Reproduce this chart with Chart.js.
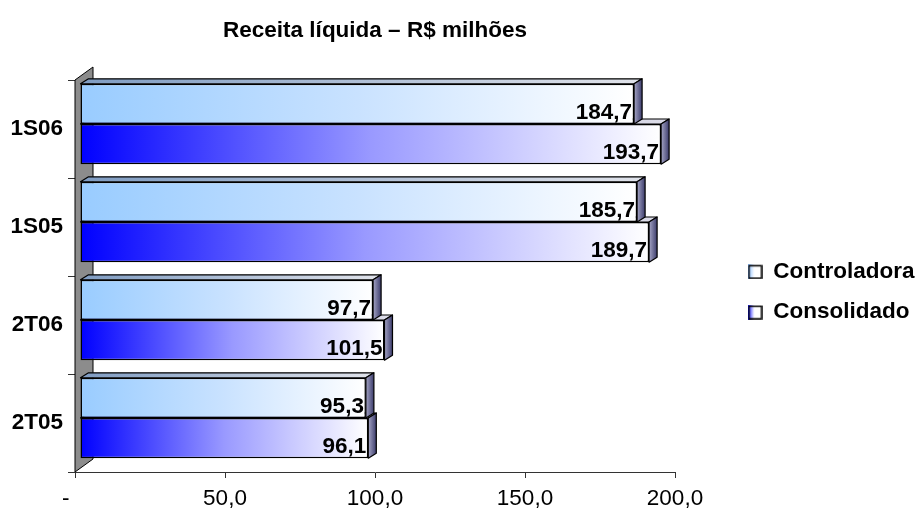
<!DOCTYPE html>
<html>
<head>
<meta charset="utf-8">
<title>Receita líquida</title>
<script src="https://cdn.jsdelivr.net/npm/chart.js@4.4.1/dist/chart.umd.min.js"></script>
<style>
    html, body { margin: 0; padding: 0; background: #fff; }
    #box { width: 916px; height: 510px; }
</style>
</head>
<body>
<div id="box"><canvas id="myChart"></canvas></div>
<script>
// ---------- data ----------
var periods = ['1S06', '1S05', '2T06', '2T05'];
var controladora = [184.7, 185.7, 97.7, 95.3];
var consolidado = [193.7, 189.7, 101.5, 96.1];
var axisTicks = [0, 50, 100, 150, 200];

var FONT = '"Liberation Sans", Arial, sans-serif';
var FS = 22.5;
Chart.defaults.font.family = FONT;
Chart.defaults.color = '#000';

// 3d look: bars are pushed a bit right/up from the axes, depth goes up-right
var SHIFT_X = 5, SHIFT_Y = -5;
var DEPTH_X = 8, DEPTH_Y = -5;

function fmt(v) {
    return v.toFixed(1).replace('.', ',');
}

// gradient along each bar, from its base to its end
function barFill(stops) {
    return function (c) {
        var chart = c.chart;
        if (!chart.chartArea || c.type !== 'data') return stops[0][1];
        var x0 = chart.scales.x.getPixelForValue(0);
        var x1 = chart.scales.x.getPixelForValue(c.raw);
        var g = chart.ctx.createLinearGradient(x0, 0, x1, 0);
        stops.forEach(function (s) { g.addColorStop(s[0], s[1]); });
        return g;
    };
}

var fillCtrl = [[0, '#99ccff'], [0.5, '#c9e2ff'], [1, '#ffffff']];
var fillCons = [[0, '#0000ff'], [0.5, '#9999ff'], [1, '#ffffff']];
var topCtrl = ['#7f9cc2', '#dfe2ea'];
var topCons = ['#3a3aa0', '#dcdce8'];

// small legend squares
function swatch(c0) {
    var cv = document.createElement('canvas');
    cv.width = 15; cv.height = 15;
    var g = cv.getContext('2d');
    var gr = g.createLinearGradient(0, 0, 15, 0);
    gr.addColorStop(0, c0);
    gr.addColorStop(0.45, '#ffffff');
    gr.addColorStop(1, '#ffffff');
    g.fillStyle = gr;
    g.fillRect(0, 0, 15, 15);
    g.strokeStyle = '#000';
    g.lineWidth = 1.5;
    g.strokeRect(1.5, 1.5, 12.5, 12.5);
    return cv;
}
var swatches = [swatch('#7fb8ff'), swatch('#0000ff')];

// empty box between plot and legend
var legendGap = {
    id: 'legendGap',
    beforeInit: function (chart) {
        Chart.layouts.addBox(chart, {
            position: 'right', weight: 500, fullSize: false, options: {},
            top: 0, left: 0, right: 0, bottom: 0, width: 0, height: 0,
            isHorizontal: function () { return false; },
            update: function (w, h) { this.width = 55; this.height = h; },
            draw: function () {}
        });
    }
};

var bars3d = {
    id: 'bars3d',
    beforeDatasetsDraw: function (chart) {
        var ctx = chart.ctx, a = chart.chartArea;
        // grey back wall
        ctx.save();
        ctx.beginPath();
        ctx.moveTo(a.left, a.top);
        ctx.lineTo(a.left + 18, a.top - 13);
        ctx.lineTo(a.left + 18, a.bottom - 13);
        ctx.lineTo(a.left, a.bottom);
        ctx.closePath();
        ctx.fillStyle = '#8c8c8c';
        ctx.fill();
        ctx.strokeStyle = '#000';
        ctx.lineWidth = 1;
        ctx.stroke();
        ctx.restore();

        ctx.save();
        ctx.translate(SHIFT_X, SHIFT_Y);
    },
    afterDatasetDraw: function (chart, args) {
        var ctx = chart.ctx;
        var tops = args.index === 0 ? topCtrl : topCons;
        args.meta.data.forEach(function (bar) {
            var p = bar.getProps(['x', 'y', 'base', 'height'], true);
            var t = p.y - p.height / 2, b = p.y + p.height / 2;
            ctx.save();
            ctx.lineWidth = 1.2;
            ctx.strokeStyle = '#000';
            ctx.lineJoin = 'round';

            // top face
            var g = ctx.createLinearGradient(p.base, 0, p.x, 0);
            g.addColorStop(0, tops[0]);
            g.addColorStop(1, tops[1]);
            ctx.beginPath();
            ctx.moveTo(p.base, t);
            ctx.lineTo(p.base + DEPTH_X, t + DEPTH_Y);
            ctx.lineTo(p.x + DEPTH_X, t + DEPTH_Y);
            ctx.lineTo(p.x, t);
            ctx.closePath();
            ctx.fillStyle = g;
            ctx.fill();
            ctx.stroke();

            // end face
            var s = ctx.createLinearGradient(p.x, 0, p.x + DEPTH_X, 0);
            s.addColorStop(0, '#a4a4c4');
            s.addColorStop(1, '#3c3c6c');
            ctx.beginPath();
            ctx.moveTo(p.x, t);
            ctx.lineTo(p.x + DEPTH_X, t + DEPTH_Y);
            ctx.lineTo(p.x + DEPTH_X, b + DEPTH_Y);
            ctx.lineTo(p.x, b);
            ctx.closePath();
            ctx.fillStyle = s;
            ctx.fill();
            ctx.stroke();
            ctx.restore();
        });
    },
    afterDatasetsDraw: function (chart) {
        var ctx = chart.ctx;
        ctx.save();
        ctx.font = 'bold ' + FS + 'px ' + FONT;
        ctx.fillStyle = '#000';
        ctx.textAlign = 'right';
        ctx.textBaseline = 'alphabetic';
        chart.data.datasets.forEach(function (ds, i) {
            chart.getDatasetMeta(i).data.forEach(function (bar, j) {
                var p = bar.getProps(['x', 'y', 'height'], true);
                ctx.fillText(fmt(ds.data[j]), p.x - 2, p.y + p.height / 2 - 5);
            });
        });
        ctx.restore();
        ctx.restore(); // undo translate
    }
};

new Chart(document.getElementById('myChart'), {
    type: 'bar',
    data: {
        labels: periods,
        datasets: [
            {
                label: 'Controladora',
                data: controladora,
                backgroundColor: barFill(fillCtrl),
                borderColor: '#000',
                borderWidth: 1.5,
                borderSkipped: false,
                clip: false
            },
            {
                label: 'Consolidado',
                data: consolidado,
                backgroundColor: barFill(fillCons),
                borderColor: '#000',
                borderWidth: 1.5,
                borderSkipped: false,
                clip: false
            }
        ]
    },
    options: {
        indexAxis: 'y',
        responsive: true,
        maintainAspectRatio: false,
        animation: false,
        layout: { padding: 0 },
        datasets: { bar: { barPercentage: 1, categoryPercentage: 0.82 } },
        scales: {
            x: {
                min: 0,
                max: 200,
                afterBuildTicks: function (s) {
                    s.ticks = axisTicks.map(function (v) { return { value: v }; });
                },
                afterFit: function (s) { s.height = 38; },
                ticks: {
                    font: { size: FS },
                    color: '#000',
                    padding: 7,
                    maxRotation: 0,
                    // excel style zero: a dash padded on the right
                    callback: function (v) { return v === 0 ? '-   ' : fmt(v); }
                },
                grid: { drawOnChartArea: false, drawTicks: true, tickLength: 6, color: '#333' },
                border: { display: true, color: '#333', width: 1 }
            },
            y: {
                afterFit: function (s) { s.width = 75; s.paddingTop = 80; },
                ticks: { font: { size: FS, weight: 'bold' }, color: '#000', padding: 5 },
                grid: { drawOnChartArea: false, drawTicks: true, tickLength: 7, color: '#333' },
                border: { display: false }
            }
        },
        plugins: {
            title: {
                display: true,
                text: 'Receita líquida – R$ milhões',
                fullSize: false,
                color: '#000',
                font: { size: FS, weight: 'bold' },
                padding: { top: 17, bottom: 36 }
            },
            legend: {
                position: 'right',
                fullSize: false,
                maxWidth: 186,
                title: { display: true, text: ' ', font: { size: 10 }, padding: { top: 0, bottom: 20 } },
                labels: {
                    usePointStyle: true,
                    boxWidth: 14,
                    boxHeight: 14,
                    padding: 18,
                    color: '#000',
                    font: { size: FS, weight: 'bold' },
                    generateLabels: function (chart) {
                        return chart.data.datasets.map(function (ds, i) {
                            return {
                                text: ds.label,
                                pointStyle: swatches[i],
                                datasetIndex: i,
                                hidden: false,
                                lineWidth: 0,
                                strokeStyle: 'transparent',
                                fillStyle: 'transparent',
                                fontColor: '#000'
                            };
                        });
                    }
                }
            },
            tooltip: { enabled: false }
        }
    },
    plugins: [legendGap, bars3d]
});
</script>
</body>
</html>
